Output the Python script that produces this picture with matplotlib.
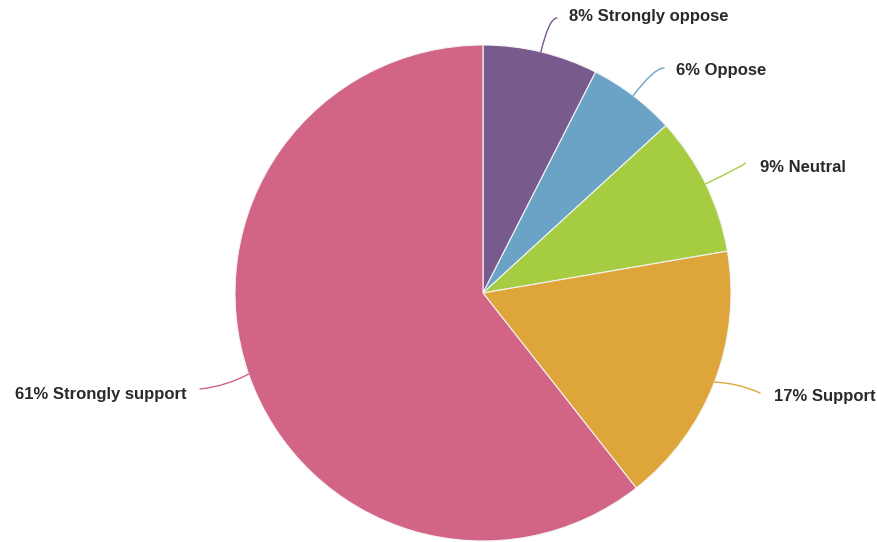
import matplotlib.pyplot as plt
import numpy as np

# Dados do gráfico de pizza
categorias = ['Strongly oppose', 'Oppose', 'Neutral', 'Support', 'Strongly support']
porcentagens = [8, 6, 9, 17, 61]               # valores escritos nos rótulos
fatias = [7.5, 5.7, 9.1, 17.1, 60.6]           # tamanhos das fatias como aparecem no desenho
cores = ['#785a8d', '#6ba3c6', '#a6cd42', '#dea63a', '#d26486']

# Posição dos rótulos (pixels, origem no canto superior esquerdo) e ponto final da linha
rotulos_pos = [(569, 17), (676, 70), (760, 167), (774, 396), (187, 394)]
linha_fim = [(557, 18), (664, 68), (745, 163), (760, 393), (200, 389)]

W, H = 878, 542
cx, cy, raio = 483, 293, 248

fig = plt.figure(figsize=(W / 100, H / 100), dpi=100)
ax = fig.add_axes([0, 0, 1, 1])

wedges, _ = ax.pie(fatias, colors=cores, startangle=90, counterclock=False,
                   center=(cx, H - cy), radius=raio,
                   wedgeprops=dict(edgecolor='#f4f4f4', linewidth=0.8))
ax.set_xlim(0, W)
ax.set_ylim(0, H)
ax.set_aspect('equal')
ax.axis('off')

for i, w in enumerate(wedges):
    meio = (w.theta1 + w.theta2) / 2
    ang = np.deg2rad(meio)
    px = cx + raio * np.cos(ang)
    py = (H - cy) + raio * np.sin(ang)
    lx, ly = linha_fim[i]
    tx, ty = rotulos_pos[i]
    lado = 'right' if tx < cx else 'left'
    # linha horizontal junto ao texto, radial junto à fatia
    dif = abs(((meio % 360) - (180 if lado == 'right' else 0) + 180) % 360 - 180)
    if dif > 25:
        estilo = 'angle3,angleA=0,angleB=%.1f' % meio
    else:
        estilo = 'arc3,rad=0.1'
    ax.annotate('', xy=(px, py), xytext=(lx, H - ly),
                arrowprops=dict(arrowstyle='-', color=cores[i], lw=1,
                                connectionstyle=estilo, shrinkA=0, shrinkB=0))
    ax.text(tx, H - ty, '%d%% %s' % (porcentagens[i], categorias[i]), ha=lado, va='center',
            fontsize=12, fontweight='bold', color='#2a2a2a', family='Liberation Sans')

fig.savefig('out.png', dpi=100, facecolor='white')
plt.close()
